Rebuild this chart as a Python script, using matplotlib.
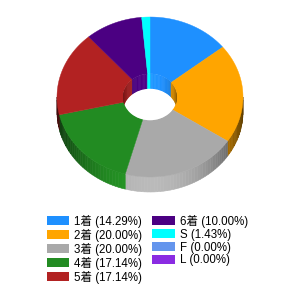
import matplotlib
matplotlib.use("Agg")
import matplotlib.pyplot as plt
import numpy as np
from matplotlib.patches import Polygon, Ellipse, Patch

labels = ["1着", "2着", "3着", "4着", "5着", "6着", "S", "F", "L"]
percents = [14.29, 20.00, 20.00, 17.14, 17.14, 10.00, 1.43, 0.00, 0.00]
colors = ["#1E90FF", "#FFA500", "#A9A9A9", "#228B22", "#B22222",
          "#4B0082", "#00FFFF", "#6495ED", "#8A2BE2"]

# geometry in pixels
cx, cy = 150, 97
rx, ry = 93, 80
hole = 0.29
depth = 15

fig = plt.figure(figsize=(3, 3), dpi=100)
ax = fig.add_axes([0, 0, 1, 1])
ax.set_xlim(0, 300)
ax.set_ylim(300, 0)
ax.axis("off")


def arc(a0, a1, scale, dy=0, n=60):
    a = np.radians(np.linspace(a0, a1, n))
    return np.column_stack([cx + rx * scale * np.sin(a), cy - ry * scale * np.cos(a) + dy])


def shade(color, f):
    c = np.array(matplotlib.colors.to_rgb(color))
    return tuple(np.clip(c * f, 0, 1))


total = sum(percents)
bounds = np.concatenate([[0], np.cumsum(percents)]) / total * 360

# outer side walls (front half only)
for c, a0, a1 in zip(colors, bounds[:-1], bounds[1:]):
    lo, hi = max(a0, 90), min(a1, 270)
    if hi <= lo:
        continue
    steps = np.linspace(lo, hi, max(2, int((hi - lo) / 2) + 1))
    for s0, s1 in zip(steps[:-1], steps[1:]):
        mid = np.radians((s0 + s1) / 2)
        f = 0.35 + 0.75 * abs(np.cos(mid)) ** 1.5
        top = arc(s0, s1, 1, 0, 5)
        bot = arc(s1, s0, 1, depth, 5)
        col = shade(c, f)
        ax.add_patch(Polygon(np.vstack([top, bot]), closed=True, fc=col, ec=col, lw=0.4))

# top faces
for c, a0, a1 in zip(colors, bounds[:-1], bounds[1:]):
    if a1 - a0 <= 0:
        continue
    pts = np.vstack([arc(a0, a1, 1), arc(a1, a0, hole)])
    ax.add_patch(Polygon(pts, closed=True, fc=c, ec=c, lw=0.3))

# inner walls (back half of hole)
clip = Ellipse((cx, cy), 2 * rx * hole, 2 * ry * hole, transform=ax.transData, fc="none", ec="none")
ax.add_patch(clip)
for c, a0, a1 in zip(colors, bounds[:-1], bounds[1:]):
    for lo, hi in [(max(a0, 0), min(a1, 90)), (max(a0, 270), min(a1, 360))]:
        if hi <= lo:
            continue
        steps = np.linspace(lo, hi, max(2, int((hi - lo) / 3) + 1))
        for s0, s1 in zip(steps[:-1], steps[1:]):
            mid = np.radians((s0 + s1) / 2)
            f = 0.55 + 0.5 * abs(np.cos(mid))
            top = arc(s0, s1, hole, 0, 5)
            bot = arc(s1, s0, hole, depth, 5)
            col = shade(c, f)
            p = Polygon(np.vstack([top, bot]), closed=True, fc=col, ec=col, lw=0.4)
            ax.add_patch(p)
            p.set_clip_path(clip)

# hole floor
floor = Ellipse((cx, cy + depth), 2 * rx * hole, 2 * ry * hole, fc="white", ec="none")
ax.add_patch(floor)
floor.set_clip_path(clip)

handles = [Patch(fc=c, ec="none") for c in colors]
texts = [f"{l} ({p:.2f}%)" for l, p in zip(labels, percents)]
fig.legend(handles, texts, loc="upper left", bbox_to_anchor=(0.14, 0.30), ncol=2,
           frameon=False, handlelength=1.95, handleheight=0.75, handletextpad=0.45,
           labelspacing=0.08, columnspacing=0.85, borderaxespad=0,
           prop={"family": ["Liberation Sans", "Noto Sans CJK JP"], "size": 8.3})

fig.savefig("out.png", dpi=100, facecolor="white")
